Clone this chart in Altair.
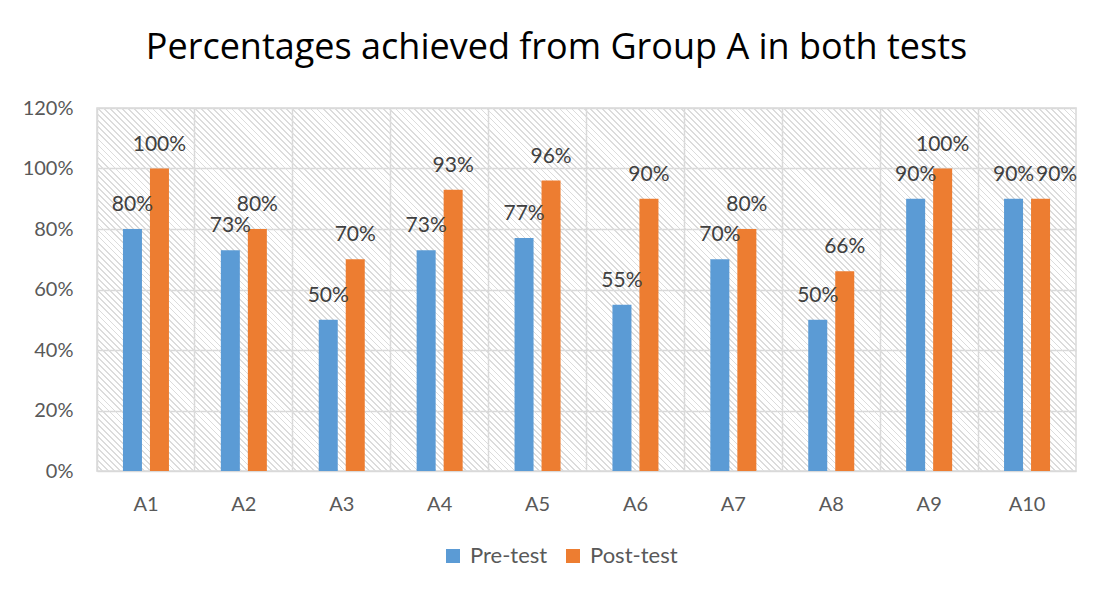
import altair as alt
import pandas as pd

# ---- data ----
categories = ["A1", "A2", "A3", "A4", "A5", "A6", "A7", "A8", "A9", "A10"]
pre_test = [0.80, 0.73, 0.50, 0.73, 0.77, 0.55, 0.70, 0.50, 0.90, 0.90]
post_test = [1.00, 0.80, 0.70, 0.93, 0.96, 0.90, 0.80, 0.66, 1.00, 0.90]
series = ["Pre-test", "Post-test"]
colors = ["#5B9BD5", "#ED7D31"]
y_ticks = [0, 0.2, 0.4, 0.6, 0.8, 1.0, 1.2]
title_text = "Percentages achieved from Group A in both tests"

rows = []
for c, a, b in zip(categories, pre_test, post_test):
    rows.append({"cat": c, "series": series[0], "value": a})
    rows.append({"cat": c, "series": series[1], "value": b})
df = pd.DataFrame(rows)

# ---- layout / style ----
W, H = 979, 363
FONT = "Lato"

# diagonal hatch ("\\\\") as a striped linear gradient (normalised bounding box coords)
r = H / W
g2 = 1 + r * r
s = (1 + r) / g2
x1, y1 = 0.0, 1.0
x2, y2 = s, 1 - s * r
span_px = (W + H) / (2 ** 0.5)
n_stripes = int(round(span_px / 4.3))
line_frac = 0.3
stops = []
for i in range(n_stripes):
    a0 = i / n_stripes
    a1 = (i + 1 - line_frac) / n_stripes
    a2 = (i + 1) / n_stripes
    stops += [
        {"offset": a0, "color": "rgba(255,255,255,0)"},
        {"offset": a1, "color": "rgba(255,255,255,0)"},
        {"offset": a1, "color": "#DCDCDC"},
        {"offset": a2, "color": "#DCDCDC"},
    ]
hatch_fill = {"gradient": "linear", "x1": x1, "y1": y1, "x2": x2, "y2": y2, "stops": stops}

x_enc = alt.X(
    "cat:N",
    sort=categories,
    scale=alt.Scale(paddingInner=0, paddingOuter=0),
    axis=alt.Axis(
        title=None, labelAngle=0, ticks=False, domain=False, grid=True,
        bandPosition=0, gridColor="#D9D9D9", gridWidth=1.5,
        labelFontSize=20, labelColor="#595959", labelFont=FONT, labelPadding=23,
    ),
)
y_enc = alt.Y(
    "value:Q",
    scale=alt.Scale(domain=[0, 1.2], nice=False),
    axis=alt.Axis(
        title=None, values=y_ticks, format=".0%", ticks=False, domain=False,
        gridColor="#D9D9D9", gridWidth=1.5,
        labelFontSize=20, labelColor="#595959", labelFont=FONT, labelPadding=24,
    ),
)
xoff = alt.XOffset(
    "series:N", sort=series,
    scale=alt.Scale(paddingInner=0.296, paddingOuter=0.961),
)

hatch = alt.Chart(alt.Data(values=[{"k": 1}])).mark_rect(
    fill=hatch_fill, strokeWidth=0
).encode(
    x=alt.value(0), x2=alt.value("width"), y=alt.value(0), y2=alt.value("height")
)

bars = alt.Chart(df).mark_bar().encode(
    x=x_enc,
    y=y_enc,
    xOffset=xoff,
    color=alt.Color(
        "series:N", sort=series,
        scale=alt.Scale(domain=series, range=colors),
        legend=alt.Legend(
            title=None, orient="none", direction="horizontal",
            legendX=345, legendY=437,
            symbolType="square", symbolSize=196, symbolStrokeWidth=0,
            labelFontSize=22, labelColor="#595959", labelFont=FONT,
            labelOffset=6, columnPadding=14,
        ),
    ),
)

# label collision: like the original, the last post-test label is nudged right
shifted = (alt.datum.cat == categories[-1]) & (alt.datum.series == series[1])

labels = alt.Chart(df).transform_filter(~shifted).mark_text(
    font=FONT, fontSize=21, color="#404040", baseline="alphabetic", dy=-18
).encode(
    x=x_enc, y=y_enc, xOffset=xoff,
    text=alt.Text("value:Q", format=".0%"),
)
labels_shift = alt.Chart(df).transform_filter(shifted).mark_text(
    font=FONT, fontSize=21, color="#404040", baseline="alphabetic", dy=-18, dx=16
).encode(
    x=x_enc, y=y_enc, xOffset=xoff,
    text=alt.Text("value:Q", format=".0%"),
)

chart = alt.layer(hatch, bars, labels, labels_shift).properties(
    width=W, height=H,
    title=alt.TitleParams(
        title_text, font="Open Sans", fontSize=36, fontWeight="normal", color="#000000",
        anchor="middle", frame="group", baseline="alphabetic", offset=3, dx=-30,
    ),
    autosize=alt.AutoSizeParams(type="none"),
    padding={"left": 89, "top": 100, "right": 22, "bottom": 115},
    background="white",
).configure_view(
    stroke="#D9D9D9", strokeWidth=1.5, fill="white"
)

chart.save("out.html", embed_options={"renderer": "svg", "actions": False})
